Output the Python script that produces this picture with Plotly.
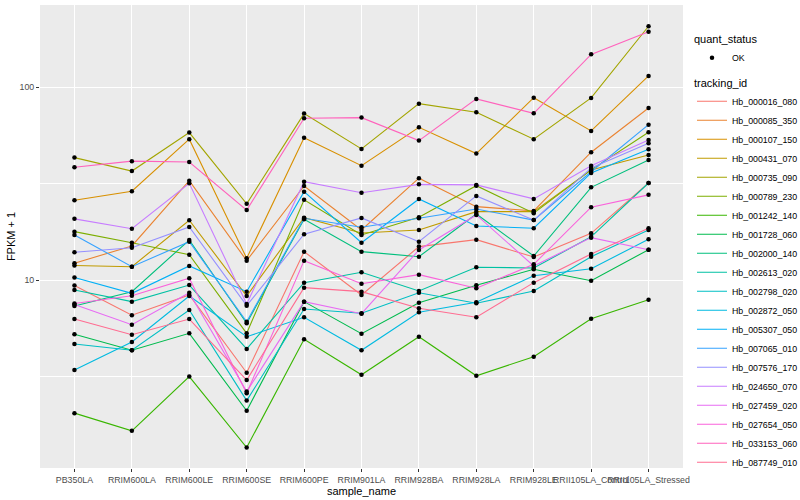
import plotly.graph_objects as go

samples = ["PB350LA", "RRIM600LA", "RRIM600LE", "RRIM600SE", "RRIM600PE", "RRIM901LA",
           "RRIM928BA", "RRIM928LA", "RRIM928LE", "RRII105LA_Control", "RRII105LA_Stressed"]

tracking_ids = ["Hb_000016_080", "Hb_000085_350", "Hb_000107_150", "Hb_000431_070", "Hb_000735_090",
                "Hb_000789_230", "Hb_001242_140", "Hb_001728_060", "Hb_002000_140", "Hb_002613_020",
                "Hb_002798_020", "Hb_002872_050", "Hb_005307_050", "Hb_007065_010", "Hb_007576_170",
                "Hb_024650_070", "Hb_027459_020", "Hb_027654_050", "Hb_033153_060", "Hb_087749_010"]

colors = ["#F8766D", "#EA8331", "#D89000", "#C09B00", "#A3A500", "#7CAE00", "#39B600", "#00BB4E",
          "#00BF7D", "#00C1A3", "#00BFC4", "#00BAE0", "#00B0F6", "#35A2FF", "#9590FF", "#C77CFF",
          "#E76BF3", "#FA62DB", "#FF62BC", "#FF6C91"]

# FPKM + 1, one list per tracking_id, in the order of `samples`
hb_000016_080 = [9.40, 6.59, 8.39, 3.32, 14.07, 8.39, 14.94, 16.23, 13.2, 17.5, 31.9]
hb_000085_350 = [12.25, 15.06, 32.8, 12.64, 30.8, 18.22, 33.8, 24.06, 22.87, 46.05, 78.1]
hb_000107_150 = [25.97, 28.91, 53.8, 13.0, 54.8, 39.25, 62.0, 45.3, 88.3, 59.4, 114.4]
hb_000431_070 = [11.93, 11.76, 20.46, 8.29, 21.1, 17.58, 18.22, 22.67, 22.67, 37.3, 44.6]
hb_000735_090 = [43.2, 36.8, 58.2, 24.9, 73.0, 47.9, 82.2, 74.2, 53.8, 88.0, 207.0]
hb_000789_230 = [17.86, 15.66, 13.57, 5.31, 26.1, 17.17, 21.2, 30.9, 22.25, 37.3, 58.5]
hb_001242_140 = [2.05, 1.66, 3.17, 1.36, 4.95, 3.24, 5.10, 3.20, 4.02, 6.32, 7.93]
hb_001728_060 = [5.25, 4.34, 5.31, 2.11, 7.75, 5.29, 7.65, 9.42, 11.4, 9.95, 14.4]
hb_002000_140 = [7.36, 8.73, 16.17, 5.99, 20.7, 14.07, 13.25, 22.06, 13.36, 30.3, 42.0]
hb_002613_020 = [8.91, 7.75, 9.45, 4.41, 9.72, 11.0, 8.80, 11.68, 11.58, 16.8, 31.9]
hb_002798_020 = [4.68, 4.34, 7.02, 2.38, 7.10, 6.75, 8.62, 7.60, 8.80, 13.25, 18.22]
hb_002872_050 = [3.43, 4.79, 8.29, 5.10, 6.43, 4.34, 6.83, 7.69, 10.56, 11.48, 16.31]
hb_005307_050 = [10.34, 8.56, 11.86, 8.73, 28.78, 15.66, 26.38, 19.11, 18.6, 35.97, 47.7]
hb_007065_010 = [17.17, 11.76, 15.85, 6.10, 20.96, 18.83, 20.96, 23.4, 20.5, 36.5, 64.0]
hb_007576_170 = [13.97, 14.75, 18.9, 7.39, 17.31, 21.03, 15.85, 27.35, 20.5, 38.2, 51.3]
hb_024650_070 = [20.8, 18.5, 31.8, 7.54, 32.4, 28.4, 31.4, 31.2, 26.4, 39.2, 53.3]
hb_027459_020 = [7.49, 5.89, 8.62, 2.65, 7.75, 6.71, 14.35, 21.8, 11.86, 16.63, 14.4]
hb_027654_050 = [7.58, 8.32, 10.24, 2.60, 12.64, 9.60, 10.69, 9.09, 12.1, 23.9, 27.7]
hb_033153_060 = [38.5, 41.4, 41.0, 23.1, 69.1, 69.6, 52.9, 87.0, 73.3, 148.0, 194.0]
hb_087749_010 = [6.30, 5.22, 6.30, 3.04, 9.16, 8.73, 7.16, 6.43, 9.72, 13.69, 18.6]

series = [hb_000016_080, hb_000085_350, hb_000107_150, hb_000431_070, hb_000735_090,
          hb_000789_230, hb_001242_140, hb_001728_060, hb_002000_140, hb_002613_020,
          hb_002798_020, hb_002872_050, hb_005307_050, hb_007065_010, hb_007576_170,
          hb_024650_070, hb_027459_020, hb_027654_050, hb_033153_060, hb_087749_010]

y_ticks = [10, 100]
y_tick_labels = ["10", "100"]
y_minor = [10 ** 0.5, 10 ** 1.5]

FONT = "Liberation Sans, Arial, sans-serif"

fig = go.Figure()
for name, col, vals in zip(tracking_ids, colors, series):
    fig.add_trace(go.Scatter(
        x=samples, y=vals, mode="lines", name=name, showlegend=True,
        line=dict(color=col, width=1.1), legend="legend2", hoverinfo="skip"))

pts_x = [s for vals in series for s in samples]
pts_y = [v for vals in series for v in vals]
fig.add_trace(go.Scatter(
    x=pts_x, y=pts_y, mode="markers", name="OK", showlegend=True,
    marker=dict(color="black", size=4.5, line=dict(width=0)),
    legend="legend"))

fig.update_layout(
    width=800, height=500, showlegend=True,
    margin=dict(l=40, r=117, t=5, b=32, autoexpand=False),
    paper_bgcolor="white", plot_bgcolor="#EBEBEB",
    font=dict(family=FONT, color="black"),
    legend=dict(title=dict(text="quant_status", font=dict(size=11)),
                font=dict(size=8.8), xref="container", yref="container",
                x=0.865, y=0.942, xanchor="left", yanchor="top",
                bgcolor="rgba(0,0,0,0)", itemwidth=30),
    legend2=dict(title=dict(text="tracking_id", font=dict(size=11)),
                 font=dict(size=8.8), xref="container", yref="container",
                 x=0.865, y=0.855, xanchor="left", yanchor="top",
                 bgcolor="rgba(0,0,0,0)", itemwidth=30, maxheight=440),
    xaxis=dict(type="category", categoryorder="array", categoryarray=samples,
               range=[-0.6, len(samples) - 0.4], tickangle=0,
               showgrid=True, gridcolor="white", gridwidth=1.1, zeroline=False,
               ticks="outside", ticklen=3, tickcolor="#333333", tickwidth=1,
               tickfont=dict(size=8.8, color="#4D4D4D"),
               title=dict(text="sample_name", font=dict(size=11), standoff=2),
               showline=False, automargin=False),
    yaxis=dict(type="log", range=[0.0275, 2.426],
               tickmode="array", tickvals=y_ticks, ticktext=y_tick_labels,
               showgrid=True, gridcolor="white", gridwidth=1.1, zeroline=False,
               minor=dict(tickmode="array", tickvals=y_minor, showgrid=True,
                          gridcolor="white", gridwidth=0.55, ticks=""),
               ticks="outside", ticklen=3, tickcolor="#333333", tickwidth=1,
               tickfont=dict(size=8.8, color="#4D4D4D"),
               title=dict(text="FPKM + 1", font=dict(size=11), standoff=1),
               showline=False, automargin=False),
)

fig.write_html("out.html", config={"displayModeBar": False},
               post_script="document.body.style.margin='0';")
